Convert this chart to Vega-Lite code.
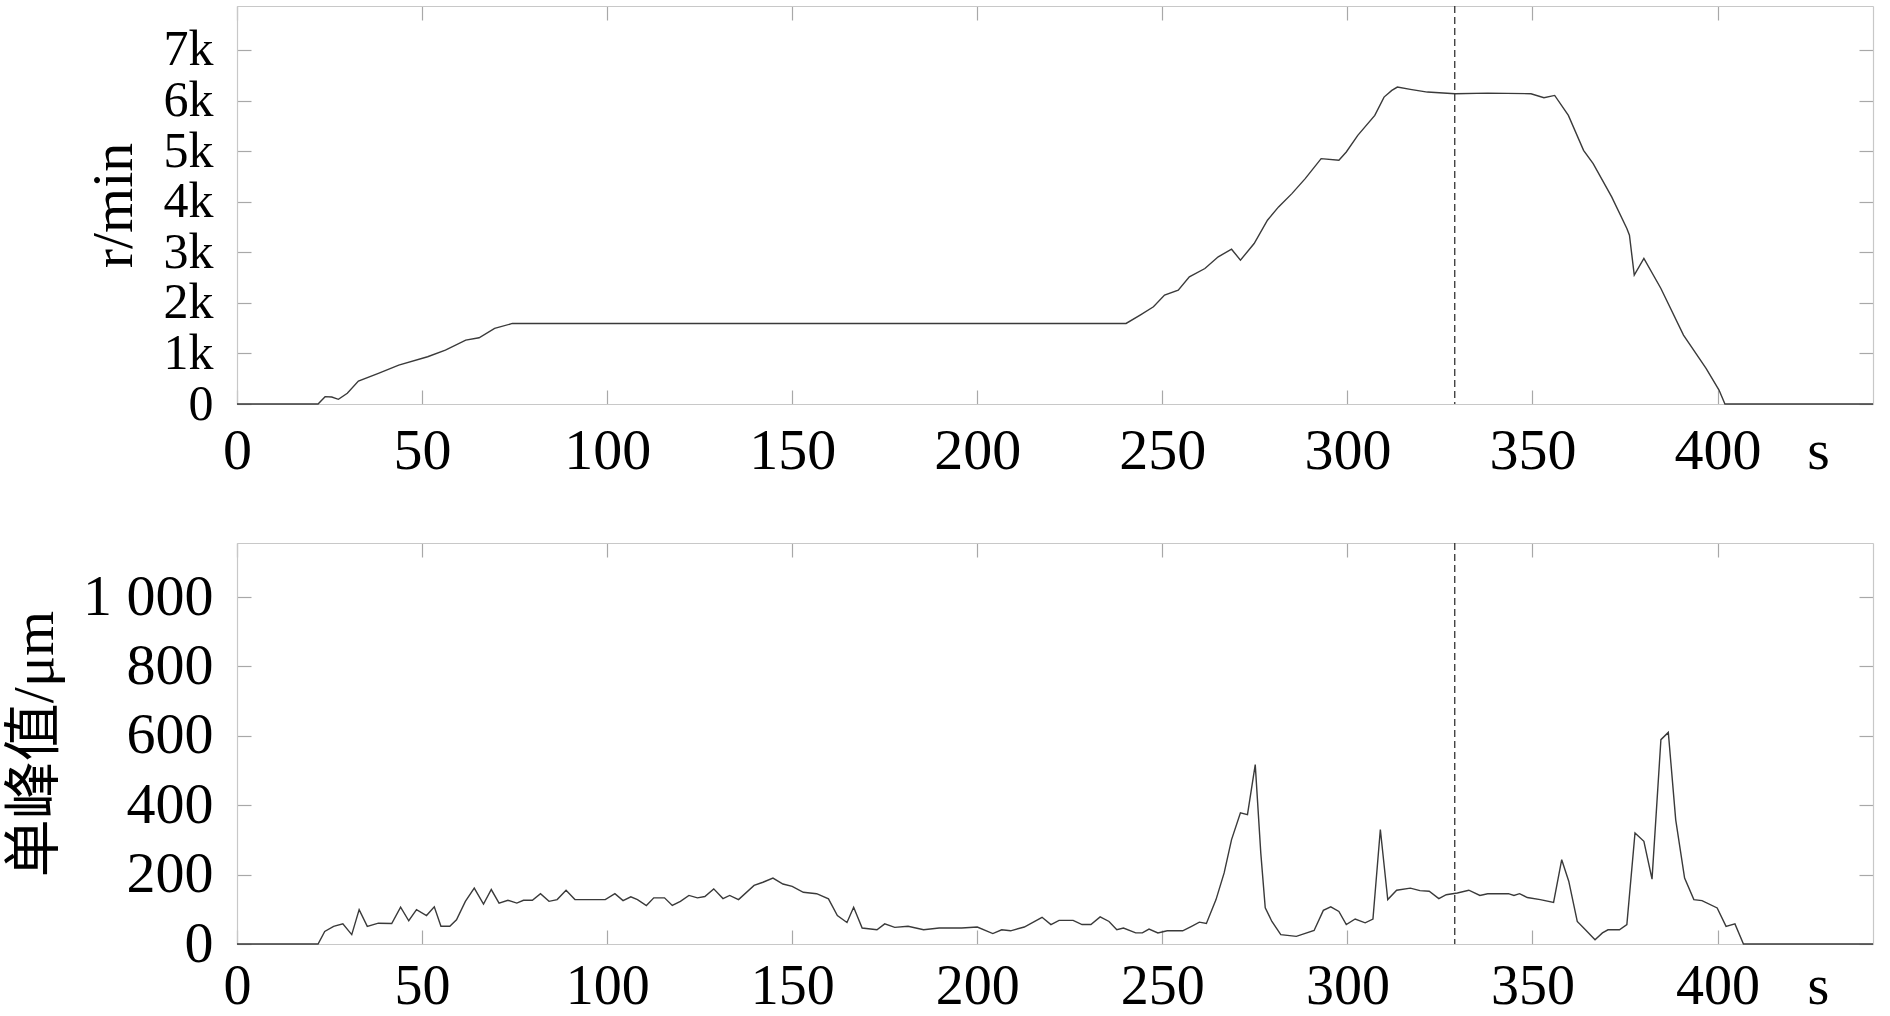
{
  "$schema": "https://vega.github.io/schema/vega-lite/v6.json",
  "padding": {"left": 6, "top": 5, "right": 0, "bottom": 0},
  "background": "white",
  "datasets": {
    "speed": [
      {"t":0,"v":0},{"t":21.9,"v":0},{"t":23.8,"v":145},{"t":25.6,"v":138},{"t":27.4,"v":92},{"t":29.8,"v":211},{"t":32.8,"v":454},{"t":38.2,"v":606},{"t":43.7,"v":770},{"t":51.5,"v":935},{"t":56.3,"v":1066},{"t":61.8,"v":1264},{"t":65.4,"v":1310},{"t":69.6,"v":1494},{"t":74.4,"v":1593},{"t":240.2,"v":1593},{"t":244,"v":1758},{"t":247.6,"v":1922},{"t":250.6,"v":2153},{"t":254.3,"v":2251},{"t":257.3,"v":2515},{"t":261.5,"v":2679},{"t":265.1,"v":2910},{"t":268.7,"v":3061},{"t":271.1,"v":2844},{"t":274.8,"v":3173},{"t":278.4,"v":3634},{"t":281.4,"v":3897},{"t":285,"v":4160},{"t":288.6,"v":4457},{"t":292.9,"v":4852},{"t":297.7,"v":4819},{"t":299.7,"v":4983},{"t":302.8,"v":5312},{"t":307.4,"v":5707},{"t":309.9,"v":6069},{"t":312,"v":6201},{"t":313.5,"v":6267},{"t":317,"v":6221},{"t":321.6,"v":6168},{"t":329.1,"v":6135},{"t":337.9,"v":6148},{"t":349.6,"v":6135},{"t":353.1,"v":6056},{"t":356,"v":6102},{"t":359.7,"v":5707},{"t":363.8,"v":5016},{"t":366.4,"v":4753},{"t":371.4,"v":4095},{"t":375.5,"v":3469},{"t":376.2,"v":3338},{"t":377.5,"v":2548},{"t":380.1,"v":2877},{"t":384.7,"v":2284},{"t":390.8,"v":1363},{"t":396.9,"v":704},{"t":400.4,"v":276},{"t":402,"v":0},{"t":442,"v":0}
    ],
    "amp": [
      {"t":0,"v":0},{"t":21.9,"v":0},{"t":23.7,"v":36},{"t":26.1,"v":51},{"t":28.6,"v":58},{"t":31,"v":27},{"t":33,"v":99},{"t":35.2,"v":51},{"t":38.2,"v":60},{"t":41.8,"v":59},{"t":44.2,"v":106},{"t":46.4,"v":67},{"t":48.5,"v":99},{"t":51.2,"v":82},{"t":53.3,"v":107},{"t":55.1,"v":51},{"t":57.5,"v":51},{"t":59.3,"v":70},{"t":61.7,"v":123},{"t":64.1,"v":161},{"t":66.6,"v":115},{"t":68.7,"v":157},{"t":70.8,"v":118},{"t":73.2,"v":126},{"t":75.6,"v":118},{"t":77.4,"v":126},{"t":79.8,"v":126},{"t":82,"v":145},{"t":84.3,"v":123},{"t":86.5,"v":128},{"t":88.9,"v":155},{"t":91.3,"v":128},{"t":99.5,"v":128},{"t":102.1,"v":145},{"t":104.3,"v":125},{"t":106.4,"v":136},{"t":108.2,"v":128},{"t":110.6,"v":111},{"t":112.6,"v":133},{"t":115.5,"v":133},{"t":117.6,"v":111},{"t":119.8,"v":123},{"t":122.1,"v":140},{"t":124.4,"v":133},{"t":126.4,"v":137},{"t":128.8,"v":159},{"t":131.3,"v":131},{"t":133.1,"v":140},{"t":135.5,"v":128},{"t":139.7,"v":169},{"t":142.1,"v":178},{"t":144.8,"v":190},{"t":147.5,"v":173},{"t":150,"v":166},{"t":153,"v":149},{"t":156.6,"v":145},{"t":159.8,"v":130},{"t":162.2,"v":82},{"t":164.8,"v":62},{"t":166.6,"v":106},{"t":168.9,"v":46},{"t":172.9,"v":41},{"t":175,"v":58},{"t":177.7,"v":48},{"t":181.3,"v":51},{"t":185.5,"v":41},{"t":189.7,"v":46},{"t":195.8,"v":46},{"t":200,"v":49},{"t":204.2,"v":30},{"t":206.6,"v":41},{"t":209,"v":38},{"t":212.7,"v":49},{"t":217.5,"v":77},{"t":219.9,"v":56},{"t":222.1,"v":68},{"t":225.9,"v":68},{"t":228.3,"v":56},{"t":230.7,"v":56},{"t":233.2,"v":78},{"t":235.6,"v":65},{"t":237.7,"v":41},{"t":239.5,"v":46},{"t":242.8,"v":32},{"t":244.6,"v":32},{"t":246.4,"v":43},{"t":248.8,"v":32},{"t":251.3,"v":38},{"t":255.5,"v":38},{"t":257.9,"v":51},{"t":260,"v":63},{"t":261.9,"v":59},{"t":264.5,"v":128},{"t":266.7,"v":205},{"t":268.7,"v":301},{"t":271.1,"v":378},{"t":273,"v":373},{"t":275.1,"v":517},{"t":276.6,"v":262},{"t":277.8,"v":104},{"t":279.6,"v":65},{"t":282,"v":27},{"t":286.2,"v":22},{"t":291,"v":39},{"t":293.5,"v":97},{"t":295.5,"v":107},{"t":297.7,"v":94},{"t":299.7,"v":56},{"t":302.1,"v":72},{"t":304.8,"v":61},{"t":306.9,"v":72},{"t":308.9,"v":330},{"t":310.9,"v":128},{"t":313.3,"v":155},{"t":317,"v":161},{"t":319.6,"v":154},{"t":322.1,"v":152},{"t":324.7,"v":131},{"t":326.7,"v":142},{"t":329.7,"v":147},{"t":332.8,"v":155},{"t":335.8,"v":140},{"t":337.9,"v":145},{"t":343.5,"v":145},{"t":345,"v":140},{"t":346.5,"v":145},{"t":348.6,"v":134},{"t":352.1,"v":128},{"t":355.7,"v":120},{"t":357.9,"v":243},{"t":359.8,"v":181},{"t":362.1,"v":65},{"t":364.3,"v":41},{"t":366.9,"v":12},{"t":368.9,"v":32},{"t":370.4,"v":41},{"t":373.5,"v":41},{"t":375.5,"v":56},{"t":377.7,"v":320},{"t":380.1,"v":296},{"t":382.3,"v":187},{"t":384.7,"v":589},{"t":386.7,"v":610},{"t":388.7,"v":358},{"t":391.1,"v":190},{"t":393.6,"v":128},{"t":395.8,"v":125},{"t":399.9,"v":104},{"t":402.3,"v":51},{"t":404.7,"v":58},{"t":407,"v":0},{"t":442,"v":0}
    ],
    "marker": [{"t": 329}]
  },
  "spacing": 62,
  "vconcat": [
    {
      "width": 1636,
      "height": 398,
      "layer": [
        {
          "data": {"name": "speed"},
          "mark": {"type": "line", "color": "#3a3a3a", "strokeWidth": 1.4},
          "encoding": {
            "x": {"field": "t", "type": "quantitative", "scale": {"domain": [0, 442], "nice": false, "zero": false},
              "axis": {"orient": "bottom", "values": [0,50,100,150,200,250,300,350,400], "title": "s", "titleX": 1581, "titleY": 64, "titleAlign": "center", "titleBaseline": "alphabetic", "titleAngle": 0, "labelPadding": 32}},
            "y": {"field": "v", "type": "quantitative", "scale": {"domain": [0, 7870], "nice": false},
              "axis": {"orient": "left", "values": [0,1000,2000,3000,4000,5000,6000,7000], "labelExpr": "datum.value == 0 ? '0' : (datum.value / 1000) + 'k'", "labelFontSize": 50, "title": "r/min", "labelPadding": 38, "titlePadding": 20}}
          }
        },
        {
          "data": {"name": "speed"},
          "mark": {"type": "line", "opacity": 0},
          "encoding": {
            "x": {"field": "t", "type": "quantitative", "axis": {"orient": "top", "values": [0,50,100,150,200,250,300,350,400], "labels": false, "title": null}},
            "y": {"field": "v", "type": "quantitative", "axis": {"orient": "right", "values": [0,1000,2000,3000,4000,5000,6000,7000], "labels": false, "title": null}}
          }
        },
        {
          "data": {"name": "marker"},
          "mark": {"type": "rule", "color": "#333333", "strokeWidth": 1.3, "strokeDash": [7, 4]},
          "encoding": {"x": {"field": "t", "type": "quantitative", "axis": null}}
        }
      ],
      "resolve": {"axis": {"x": "independent", "y": "independent"}}
    },
    {
      "width": 1636,
      "height": 401,
      "layer": [
        {
          "data": {"name": "amp"},
          "mark": {"type": "line", "color": "#3a3a3a", "strokeWidth": 1.4},
          "encoding": {
            "x": {"field": "t", "type": "quantitative", "scale": {"domain": [0, 442], "nice": false, "zero": false},
              "axis": {"orient": "bottom", "values": [0,50,100,150,200,250,300,350,400], "title": "s", "titleX": 1581, "titleY": 59, "titleFontSize": 56, "titleAlign": "center", "titleBaseline": "alphabetic", "titleAngle": 0, "labelFontSize": 56, "labelPadding": 29}},
            "y": {"field": "v", "type": "quantitative", "scale": {"domain": [0, 1156], "nice": false},
              "axis": {"orient": "left", "values": [0,200,400,600,800,1000], "labelExpr": "datum.value == 1000 ? '1 000' : datum.label", "title": "单峰值/μm", "titleFont": "Liberation Serif, Noto Sans CJK SC", "labelPadding": 38, "titlePadding": 18}}
          }
        },
        {
          "data": {"name": "amp"},
          "mark": {"type": "line", "opacity": 0},
          "encoding": {
            "x": {"field": "t", "type": "quantitative", "axis": {"orient": "top", "values": [0,50,100,150,200,250,300,350,400], "labels": false, "title": null}},
            "y": {"field": "v", "type": "quantitative", "axis": {"orient": "right", "values": [0,200,400,600,800,1000], "labels": false, "title": null}}
          }
        },
        {
          "data": {"name": "marker"},
          "mark": {"type": "rule", "color": "#333333", "strokeWidth": 1.3, "strokeDash": [7, 4]},
          "encoding": {"x": {"field": "t", "type": "quantitative", "axis": null}}
        }
      ],
      "resolve": {"axis": {"x": "independent", "y": "independent"}}
    }
  ],
  "config": {
    "font": "Liberation Serif",
    "view": {"stroke": null},
    "axis": {
      "labelFont": "Liberation Serif",
      "labelFontSize": 58,
      "labelColor": "#000000",
      "labelOverlap": false,
      "labelFlush": false,
      "labelBound": false,
      "titleFont": "Liberation Serif",
      "titleFontSize": 58,
      "titleFontWeight": "normal",
      "titleColor": "#000000",
      "domainColor": "#c8c8c8",
      "domainWidth": 1.2,
      "tickColor": "#a8a8a8",
      "tickWidth": 1.2,
      "tickSize": -14,
      "grid": false
    }
  }
}
